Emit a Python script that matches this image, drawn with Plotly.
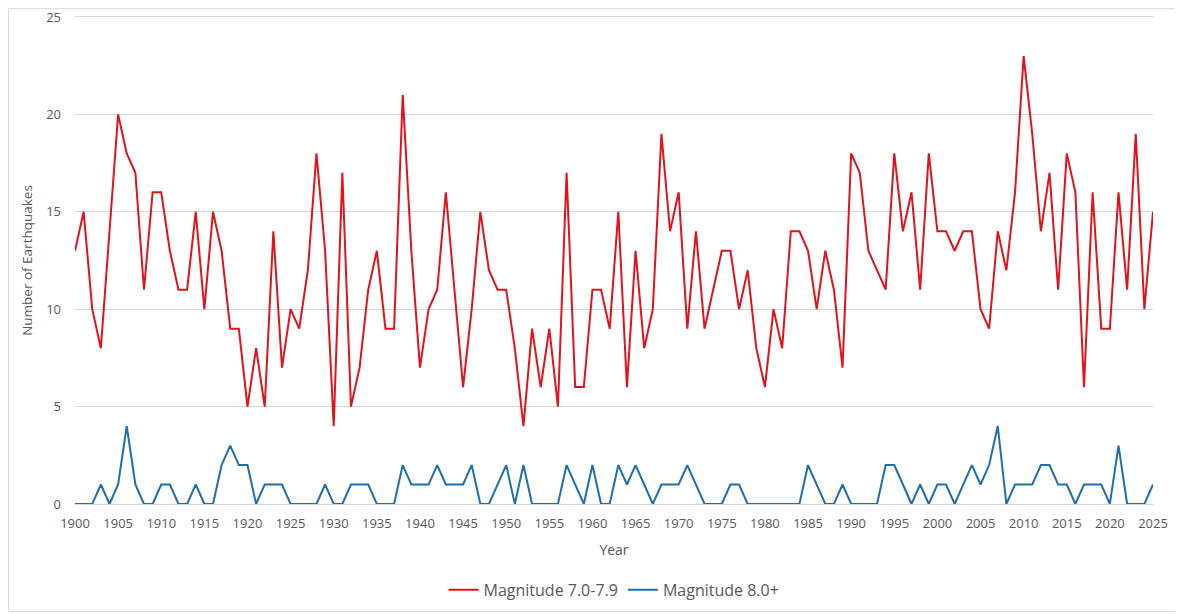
import plotly.graph_objects as go

# Yearly counts of large earthquakes, 1900-2025
years = list(range(1900, 2026))

mag_7 = [13, 15, 10, 8, 14, 20, 18, 17, 11, 16,
         16, 13, 11, 11, 15, 10, 15, 13, 9, 9,
         5, 8, 5, 14, 7, 10, 9, 12, 18, 13,
         4, 17, 5, 7, 11, 13, 9, 9, 21, 13,
         7, 10, 11, 16, 11, 6, 10, 15, 12, 11,
         11, 8, 4, 9, 6, 9, 5, 17, 6, 6,
         11, 11, 9, 15, 6, 13, 8, 10, 19, 14,
         16, 9, 14, 9, 11, 13, 13, 10, 12, 8,
         6, 10, 8, 14, 14, 13, 10, 13, 11, 7,
         18, 17, 13, 12, 11, 18, 14, 16, 11, 18,
         14, 14, 13, 14, 14, 10, 9, 14, 12, 16,
         23, 19, 14, 17, 11, 18, 16, 6, 16, 9,
         9, 16, 11, 19, 10, 15]

mag_8 = [0, 0, 0, 1, 0, 1, 4, 1, 0, 0,
         1, 1, 0, 0, 1, 0, 0, 2, 3, 2,
         2, 0, 1, 1, 1, 0, 0, 0, 0, 1,
         0, 0, 1, 1, 1, 0, 0, 0, 2, 1,
         1, 1, 2, 1, 1, 1, 2, 0, 0, 1,
         2, 0, 2, 0, 0, 0, 0, 2, 1, 0,
         2, 0, 0, 2, 1, 2, 1, 0, 1, 1,
         1, 2, 1, 0, 0, 0, 1, 1, 0, 0,
         0, 0, 0, 0, 0, 2, 1, 0, 0, 1,
         0, 0, 0, 0, 2, 2, 1, 0, 1, 0,
         1, 1, 0, 1, 2, 1, 2, 4, 0, 1,
         1, 1, 2, 2, 1, 1, 0, 1, 1, 1,
         0, 3, 0, 0, 0, 1]

x_ticks = list(range(1900, 2026, 5))
y_ticks = [0, 5, 10, 15, 20, 25]

font_name = "Open Sans"
grey_text = "#595959"
grid_grey = "#d9d9d9"

fig = go.Figure()
fig.add_trace(go.Scatter(x=years, y=mag_7, mode="lines", name="Magnitude 7.0-7.9",
                         line=dict(color="#e3121b", width=2)))
fig.add_trace(go.Scatter(x=years, y=mag_8, mode="lines", name="Magnitude 8.0+",
                         line=dict(color="#1f6fb0", width=2)))

fig.update_layout(
    width=1175, height=607,
    margin=dict(l=67, r=30, t=9, b=110),
    paper_bgcolor="white", plot_bgcolor="white",
    font=dict(family=font_name, color=grey_text, size=13),
    showlegend=True,
    legend=dict(orientation="h", x=0.5, xanchor="center", y=-0.174, yanchor="middle",
                font=dict(size=16, color=grey_text)),
    xaxis=dict(range=[1900, 2025], tickmode="array", tickvals=x_ticks,
               showgrid=False, zeroline=False, automargin=False,
               showline=True, linecolor=grid_grey, linewidth=1, mirror=True,
               ticks="", tickfont=dict(size=13), ticklabelstandoff=7,
               title=dict(text="Year", font=dict(size=14), standoff=14)),
    yaxis=dict(range=[0, 25], tickmode="array", tickvals=y_ticks,
               showgrid=True, gridcolor=grid_grey, gridwidth=1,
               zeroline=False, showline=False, ticks="", automargin=False,
               tickfont=dict(size=13), ticklabelstandoff=13,
               ticklabeloverflow="allow",
               title=dict(text="Number of Earthquakes", font=dict(size=13.5), standoff=10)),
    shapes=[dict(type="rect", xref="paper", yref="paper",
                 x0=-0.0617, x1=1.026, y0=-0.221, y1=1.017,
                 line=dict(color=grid_grey, width=1), layer="below")],
)

fig.write_html("out.html")
